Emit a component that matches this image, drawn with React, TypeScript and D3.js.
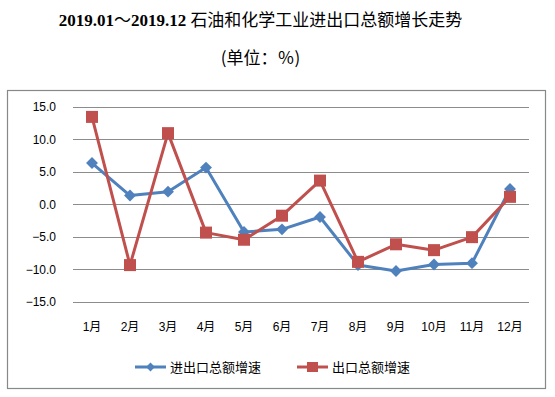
import React, { useRef, useEffect } from 'react';
import * as d3 from 'd3';

const months = ['1月', '2月', '3月', '4月', '5月', '6月', '7月', '8月', '9月', '10月', '11月', '12月'];
const totalGrowth = [6.3, 1.3, 1.9, 5.6, -4.3, -3.9, -2.0, -9.4, -10.3, -9.3, -9.1, 2.3];
const exportGrowth = [13.4, -9.4, 10.9, -4.4, -5.5, -1.8, 3.6, -8.9, -6.2, -7.1, -5.1, 1.1];
const yTicks = [15, 10, 5, 0, -5, -10, -15];
const seriesNames = ['进出口总额增速', '出口总额增速'];

const W = 555;
const H = 397;
const BLUE = '#4F81BD';
const RED = '#C0504D';
const TICK_FONT = '"Liberation Sans", "Noto Sans CJK SC", sans-serif';
const CJK_FONT = '"Noto Sans CJK SC", sans-serif';
const SERIF = '"Liberation Serif", serif';

const App = () => {
  const ref = useRef<SVGSVGElement>(null);

  useEffect(() => {
    const svg = d3.select(ref.current);
    svg.selectAll('*').remove();

    // Title (mixed fonts, like the original Word/Excel title)
    const title = svg.append('text')
      .attr('x', 260.5)
      .attr('y', 26)
      .attr('text-anchor', 'middle')
      .style('fill', '#000');
    title.append('tspan')
      .style('font-family', SERIF)
      .style('font-weight', 'bold')
      .style('font-size', '17px')
      .text('2019.01');
    title.append('tspan')
      .style('font-family', CJK_FONT)
      .style('font-size', '17px')
      .text('～');
    title.append('tspan')
      .style('font-family', SERIF)
      .style('font-weight', 'bold')
      .style('font-size', '17px')
      .text('2019.12 ');
    title.append('tspan')
      .style('font-family', CJK_FONT)
      .style('font-size', '17px')
      .text('石油和化学工业进出口总额增长走势');

    svg.append('text')
      .attr('x', 260.5)
      .attr('y', 64)
      .attr('text-anchor', 'middle')
      .style('font-size', '17px')
      .style('font-family', CJK_FONT)
      .text('(单位：％)');

    // Chart frame
    svg.append('rect')
      .attr('x', 7.5)
      .attr('y', 90.5)
      .attr('width', 538)
      .attr('height', 298)
      .attr('fill', 'none')
      .attr('stroke', '#888')
      .attr('stroke-width', 1.2);

    const x = d3.scaleBand().domain(months).range([73, 529]);
    const y = d3.scaleLinear().domain([-15, 15]).range([301.5, 106.5]);
    const cx = (m: string) => (x(m) as number) + x.bandwidth() / 2;

    // Gridlines
    svg.append('g')
      .selectAll('line')
      .data(yTicks)
      .join('line')
      .attr('x1', 73)
      .attr('x2', 529)
      .attr('y1', d => Math.round(y(d)) + 0.5)
      .attr('y2', d => Math.round(y(d)) + 0.5)
      .attr('stroke', '#8c8c8c')
      .attr('stroke-width', 1);

    // Y labels
    svg.append('g')
      .selectAll('text')
      .data(yTicks)
      .join('text')
      .attr('x', 56)
      .attr('y', d => y(d) + 4.5)
      .attr('text-anchor', 'end')
      .style('font-family', TICK_FONT)
      .style('font-size', '12px')
      .style('fill', '#000')
      .text(d => d3.format('.1f')(d));

    // X labels
    svg.append('g')
      .selectAll('text')
      .data(months)
      .join('text')
      .attr('x', d => cx(d))
      .attr('y', 331)
      .attr('text-anchor', 'middle')
      .style('font-family', TICK_FONT)
      .style('font-size', '12px')
      .style('fill', '#000')
      .text(d => d);

    const line = d3.line<number>()
      .x((_, i) => cx(months[i]))
      .y(d => y(d));

    // Series 1: blue diamonds
    svg.append('path')
      .datum(totalGrowth)
      .attr('d', line)
      .attr('fill', 'none')
      .attr('stroke', BLUE)
      .attr('stroke-width', 3)
      .attr('stroke-linejoin', 'round');

    const diamond = d3.symbol().type(d3.symbolDiamond2).size(90);
    svg.append('g')
      .selectAll('path')
      .data(totalGrowth)
      .join('path')
      .attr('d', diamond)
      .attr('transform', (d, i) => `translate(${cx(months[i])},${y(d)})`)
      .attr('fill', BLUE);

    // Series 2: red squares
    svg.append('path')
      .datum(exportGrowth)
      .attr('d', line)
      .attr('fill', 'none')
      .attr('stroke', RED)
      .attr('stroke-width', 3)
      .attr('stroke-linejoin', 'round');

    svg.append('g')
      .selectAll('rect')
      .data(exportGrowth)
      .join('rect')
      .attr('x', (d, i) => cx(months[i]) - 6)
      .attr('y', d => y(d) - 6)
      .attr('width', 12)
      .attr('height', 12)
      .attr('fill', RED);

    // Legend
    const ly = 367;
    const legend = [
      { name: seriesNames[0], color: BLUE, x0: 135 },
      { name: seriesNames[1], color: RED, x0: 297 },
    ];
    legend.forEach((l, k) => {
      const g = svg.append('g');
      g.append('line')
        .attr('x1', l.x0)
        .attr('x2', l.x0 + 31)
        .attr('y1', ly)
        .attr('y2', ly)
        .attr('stroke', l.color)
        .attr('stroke-width', 3);
      if (k === 0) {
        g.append('path')
          .attr('d', d3.symbol().type(d3.symbolDiamond2).size(50))
          .attr('transform', `translate(${l.x0 + 15.5},${ly})`)
          .attr('fill', l.color);
      } else {
        g.append('rect')
          .attr('x', l.x0 + 10)
          .attr('y', ly - 5)
          .attr('width', 11)
          .attr('height', 10)
          .attr('fill', l.color);
      }
      g.append('text')
        .attr('x', l.x0 + 35)
        .attr('y', ly + 5)
        .style('font-family', CJK_FONT)
        .style('font-size', '13px')
        .style('fill', '#000')
        .text(l.name);
    });
  }, []);

  return (
    <svg
      ref={ref}
      width={W}
      height={H}
      style={{ position: 'absolute', left: 0, top: 0, background: '#fff' }}
    />
  );
};

export default App;
